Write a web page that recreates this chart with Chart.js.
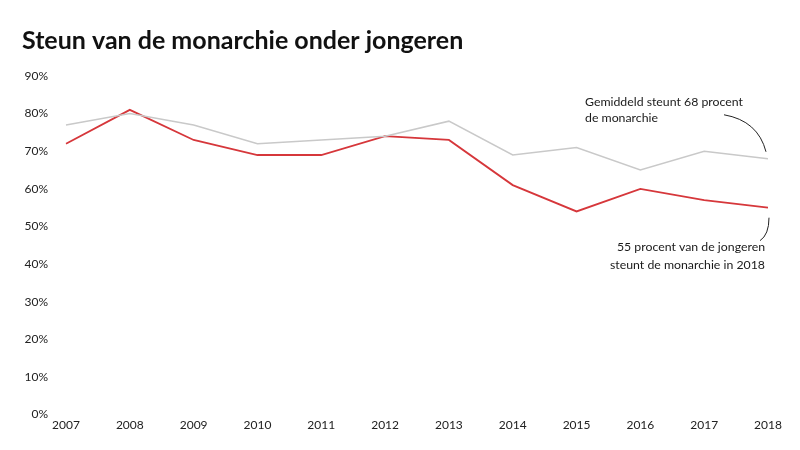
<!DOCTYPE html>
<html>
<head>
<meta charset="utf-8">
<script src="https://cdn.jsdelivr.net/npm/chart.js@4"></script>
<style>
  html, body { margin: 0; padding: 0; background: #fff; }
  #wrap { width: 800px; height: 450px; position: relative; }
</style>
</head>
<body>
<div id="wrap"><canvas id="chart" width="800" height="450"></canvas></div>
<script>
const years = ['2007', '2008', '2009', '2010', '2011', '2012', '2013', '2014', '2015', '2016', '2017', '2018'];
const youthSupport = [72, 81, 73, 69, 69, 74, 73, 61, 54, 60, 57, 55];
const averageSupport = [77, 80, 77, 72, 73, 74, 78, 69, 71, 65, 70, 68];
const yTicks = [0, 10, 20, 30, 40, 50, 60, 70, 80, 90];

const avgNote = ['Gemiddeld steunt 68 procent', 'de monarchie'];
const youthNote = ['55 procent van de jongeren', 'steunt de monarchie in 2018'];

const fontFamily = 'Lato, "Open Sans", sans-serif';

// aantekeningen met gebogen lijntjes naar het laatste punt
const notesPlugin = {
    id: 'notes',
    afterDatasetsDraw: function(chart) {
        const ctx = chart.ctx;
        const x = chart.scales.x;
        const y = chart.scales.y;
        const last = years.length - 1;
        const px = x.getPixelForValue(last);
        const pyAvg = y.getPixelForValue(averageSupport[last]);
        const pyYouth = y.getPixelForValue(youthSupport[last]);

        ctx.save();
        ctx.strokeStyle = '#222';
        ctx.lineWidth = 1;

        ctx.beginPath();
        ctx.moveTo(px - 44, pyAvg - 44);
        ctx.quadraticCurveTo(px - 10, pyAvg - 38, px - 2, pyAvg - 7);
        ctx.stroke();

        ctx.beginPath();
        ctx.moveTo(px + 1, pyYouth + 10);
        ctx.quadraticCurveTo(px + 1, pyYouth + 27, px - 8, pyYouth + 33);
        ctx.stroke();

        ctx.fillStyle = '#1a1a1a';
        ctx.font = '12.3px ' + fontFamily;
        ctx.textAlign = 'left';
        ctx.textBaseline = 'middle';
        ctx.fillText(avgNote[0], px - 183, pyAvg - 57);
        ctx.fillText(avgNote[1], px - 183, pyAvg - 41);

        ctx.textAlign = 'right';
        ctx.fillText(youthNote[0], px - 3, pyYouth + 39);
        ctx.fillText(youthNote[1], px - 3, pyYouth + 57);
        ctx.restore();
    }
};

const ctx = document.getElementById('chart').getContext('2d');
const chart = new Chart(ctx, {
    type: 'line',
    data: {
        labels: years,
        datasets: [
            {
                label: 'Gemiddeld',
                data: averageSupport,
                borderColor: '#c9c9c9',
                borderWidth: 1.5,
                pointRadius: 0,
                tension: 0
            },
            {
                label: 'Jongeren',
                data: youthSupport,
                borderColor: '#d6373b',
                borderWidth: 1.8,
                pointRadius: 0,
                tension: 0
            }
        ]
    },
    options: {
        responsive: false,
        animation: false,
        layout: { padding: { left: 22, right: 32, top: 26, bottom: 15 } },
        plugins: {
            legend: { display: false },
            tooltip: { enabled: false },
            title: {
                display: true,
                text: 'Steun van de monarchie onder jongeren',
                align: 'start',
                color: '#111',
                font: { family: fontFamily, size: 25, weight: 'bold' },
                padding: { top: 0, bottom: 20 }
            }
        },
        scales: {
            x: {
                offset: false,
                grid: { display: false, drawTicks: false },
                border: { display: false },
                ticks: {
                    color: '#222',
                    font: { family: fontFamily, size: 12 },
                    padding: 3,
                    maxRotation: 0,
                    autoSkip: false
                }
            },
            y: {
                min: 0,
                max: 90,
                afterBuildTicks: function(axis) {
                    axis.ticks = yTicks.map(v => ({ value: v }));
                },
                afterFit: function(axis) {
                    axis.width = 44;
                },
                grid: { display: false, drawTicks: false },
                border: { display: false },
                ticks: {
                    color: '#222',
                    font: { family: fontFamily, size: 12 },
                    padding: 18,
                    callback: v => v + '%'
                }
            }
        }
    },
    plugins: [notesPlugin]
});
</script>
</body>
</html>
